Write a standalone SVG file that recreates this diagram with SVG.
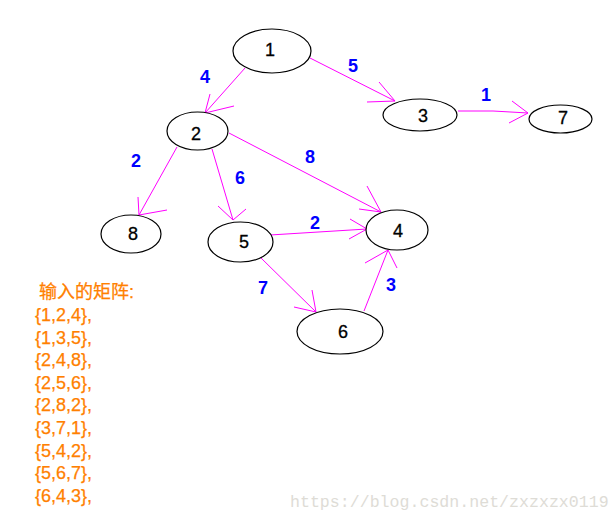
<svg xmlns="http://www.w3.org/2000/svg" width="615" height="520" viewBox="0 0 615 520">
<style>
.node ellipse{fill:#fff;stroke:#000;stroke-width:1.2}
.node text{font-family:"Liberation Sans",Arial,sans-serif;font-size:18px;fill:#000;stroke:#000;stroke-width:0.3;text-anchor:middle;dominant-baseline:central}
.edge{fill:none;stroke:#ff00ff;stroke-width:1}
.w{font-family:"Liberation Sans",Arial,sans-serif;font-size:18px;font-weight:bold;fill:#0000ff;text-anchor:middle;dominant-baseline:central}
.m{font-family:"Liberation Sans","Noto Sans CJK SC",sans-serif;font-size:18px;fill:#ff8000;stroke:#ff8000;stroke-width:0.25}
.wm{font-family:"Liberation Mono",monospace;font-size:16.6px;fill:#dedcd6}
</style>
<rect width="615" height="520" fill="#fff"/>
<g id="connectors">
<path class="edge" d="M245,68 L205,113 M210,94 L205,113 L234,106"/>
<path class="edge" d="M310,58 L395,101 M379,82 L395,101 L367,102"/>
<path class="edge" d="M458,111 L493,111 L528,113 M512,101 L528,113 L509,123"/>
<path class="edge" d="M177,147 L139,215 M138,197 L139,215 L167,210"/>
<path class="edge" d="M212,149 L233,220 M218,206 L233,220 L246,209"/>
<path class="edge" d="M229,133 L381,212 M367,186 L381,212 L359,209"/>
<path class="edge" d="M270,235 L367,229 M350,219 L367,229 L349,239"/>
<path class="edge" d="M260,257 L316,312 M312,290 L316,312 L294,307"/>
<path class="edge" d="M364,311 L388,250 M365,263 L388,250 L397,268"/>
</g>
<g id="weights">
<text class="w" x="205" y="77">4</text>
<text class="w" x="353" y="66">5</text>
<text class="w" x="486" y="95">1</text>
<text class="w" x="136" y="161">2</text>
<text class="w" x="240" y="178">6</text>
<text class="w" x="310" y="157">8</text>
<text class="w" x="315" y="223">2</text>
<text class="w" x="263" y="288">7</text>
<text class="w" x="391" y="285">3</text>
</g>
<g id="n1" class="node"><ellipse cx="272" cy="51" rx="39" ry="22"/><text x="270" y="50">1</text></g>
<g id="n2" class="node"><ellipse cx="197.5" cy="131" rx="30.5" ry="19"/><text x="196" y="134">2</text></g>
<g id="n3" class="node"><ellipse cx="420" cy="115" rx="37" ry="16"/><text x="423" y="116">3</text></g>
<g id="n7" class="node"><ellipse cx="560.5" cy="119" rx="31.5" ry="14"/><text x="563" y="118">7</text></g>
<g id="n8" class="node"><ellipse cx="131" cy="234" rx="30" ry="19"/><text x="133" y="234">8</text></g>
<g id="n5" class="node"><ellipse cx="240.5" cy="242" rx="32.5" ry="20"/><text x="244" y="242">5</text></g>
<g id="n4" class="node"><ellipse cx="397" cy="230" rx="31" ry="20"/><text x="398" y="231">4</text></g>
<g id="n6" class="node"><ellipse cx="340" cy="331.5" rx="43" ry="22.5"/><text x="343" y="332">6</text></g>
<g id="matrix">
<text class="m" x="39" y="298" font-size="17">输入的矩阵:</text>
<text class="m" x="35" y="321">{1,2,4},</text>
<text class="m" x="35" y="344">{1,3,5},</text>
<text class="m" x="35" y="366">{2,4,8},</text>
<text class="m" x="35" y="389">{2,5,6},</text>
<text class="m" x="35" y="411">{2,8,2},</text>
<text class="m" x="35" y="434">{3,7,1},</text>
<text class="m" x="35" y="457">{5,4,2},</text>
<text class="m" x="35" y="479">{5,6,7},</text>
<text class="m" x="35" y="502">{6,4,3},</text>
</g>
<text class="wm" x="290" y="507">https://blog.csdn.net/zxzxzx0119</text>
</svg>
